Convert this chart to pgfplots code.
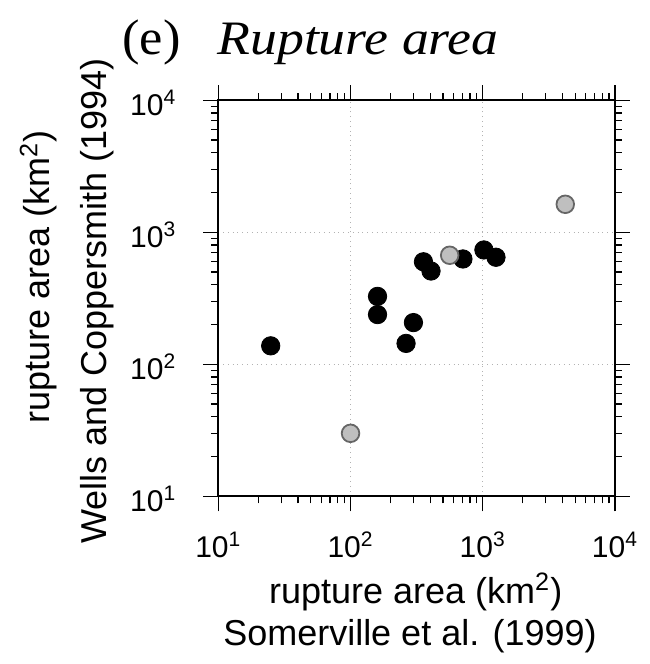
\documentclass[border=0pt]{standalone}
\usepackage{fontspec}
\setmainfont{Liberation Sans}
\newfontfamily\timesfont{Liberation Serif}
\usepackage{pgfplots}
\pgfplotsset{compat=1.18}
\begin{document}
\begin{tikzpicture}
\path[use as bounding box] (-109.15pt,248.15pt) rectangle (215.35pt,-83.85pt);
\begin{axis}[
  at={(0pt,0pt)}, anchor=south west,
  scale only axis, width=198.35pt, height=198pt,
  xmode=log, ymode=log,
  xmin=10, xmax=10000, ymin=10, ymax=10000,
  xtick={10,100,1000,10000}, ytick={10,100,1000,10000},
  xticklabels={10\textsuperscript{1},10\textsuperscript{2},10\textsuperscript{3},10\textsuperscript{4}},
  yticklabels={10\textsuperscript{1},10\textsuperscript{2},10\textsuperscript{3},10\textsuperscript{4}},
  tick align=outside, tick pos=both,
  major tick length=7.5pt, minor tick length=3.5pt,
  every tick/.style={black, line width=0.6pt},
  axis line style={line width=1.2pt},
  xmajorgrids, ymajorgrids,
  major grid style={black!30, dotted, line width=0.6pt},
  xticklabel style={font=\fontsize{15}{18}\selectfont, anchor=base, yshift=-23pt},
  yticklabel style={font=\fontsize{15}{18}\selectfont, anchor=base east, yshift=-7.5pt, xshift=-10pt},
  clip=false,
]
\addplot[only marks, mark=*, mark size=4.6pt, mark options={fill=black, draw=black}] coordinates {
(24.9,138) (160,327) (160,238) (299,207) (263,144) (356,598) (406,509) (708,628) (1020,735) (1259,647)
};
\addplot[only marks, mark=*, mark size=4.4pt, mark options={fill=black!25, draw=black!60, line width=0.9pt}] coordinates {
(100,30) (562,670) (4207,1630)
};
\end{axis}
\node[anchor=base west, inner sep=0pt] at (-48.15pt,220.65pt) {\timesfont\fontsize{25}{29}\selectfont\scalebox{1.05}[1]{(e)}};
\node[anchor=base west, inner sep=0pt] at (-0.65pt,220.65pt) {\timesfont\itshape\fontsize{24}{28}\selectfont\scalebox{1.12}[1]{Rupture area}};
\node[anchor=base, inner sep=0pt] at (98.7pt,-53.35pt) {\fontsize{18}{21}\selectfont rupture area (km\textsuperscript{2})};
\node[anchor=base, inner sep=0pt] at (95.85pt,-74.35pt) {\fontsize{18}{21}\selectfont Somerville et al. (1999)};
\node[anchor=base, inner sep=0pt, rotate=90] at (-84.15pt,109.65pt) {\fontsize{18}{21}\selectfont rupture area (km\textsuperscript{2})};
\node[anchor=base, inner sep=0pt, rotate=90] at (-55.65pt,97.65pt) {\fontsize{18}{21}\selectfont Wells and Coppersmith (1994)};
\end{tikzpicture}
\end{document}
